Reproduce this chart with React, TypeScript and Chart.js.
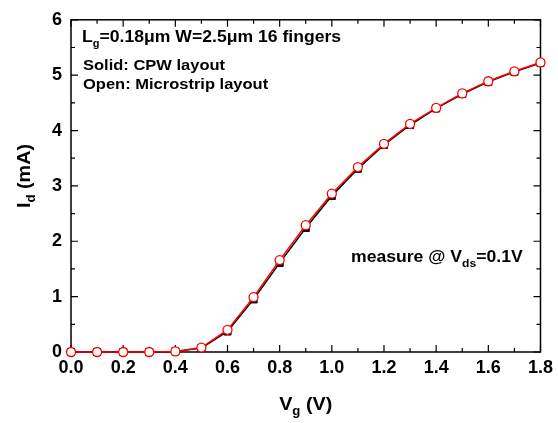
import React, { useEffect, useRef } from "react";
import { Chart, registerables } from "chart.js";

Chart.register(...registerables);

const vg = [0, 0.1, 0.2, 0.3, 0.4, 0.5, 0.6, 0.7, 0.8, 0.9, 1.0, 1.1, 1.2, 1.3, 1.4, 1.5, 1.6, 1.7, 1.8];
const idCPW = [0, 0, 0, 0, 0.01, 0.07, 0.37, 0.95, 1.61, 2.24, 2.82, 3.31, 3.74, 4.1, 4.4, 4.66, 4.88, 5.06, 5.22];
const idMicrostrip = [0, 0, 0, 0, 0.01, 0.08, 0.4, 0.99, 1.66, 2.29, 2.86, 3.34, 3.76, 4.12, 4.41, 4.67, 4.89, 5.07, 5.23];

const xMajorTicks = [0, 0.2, 0.4, 0.6, 0.8, 1.0, 1.2, 1.4, 1.6, 1.8];
const yMajorTicks = [0, 1, 2, 3, 4, 5, 6];

const FONT = "'Liberation Sans', Arial, sans-serif";
const SX = 1.1;

type Part = [string, boolean];

function partsWidth(ctx: CanvasRenderingContext2D, parts: Part[], size: number, subSize: number) {
  let w = 0;
  for (const [t, s] of parts) {
    ctx.font = `bold ${s ? subSize : size}px ${FONT}`;
    w += ctx.measureText(t).width;
  }
  return w * SX;
}

function drawSub(ctx: CanvasRenderingContext2D, parts: Part[], x: number, y: number, size: number, subSize: number) {
  ctx.save();
  ctx.translate(x, y);
  ctx.scale(SX, 1);
  let cx = 0;
  for (const [t, sub] of parts) {
    ctx.font = `bold ${sub ? subSize : size}px ${FONT}`;
    ctx.fillText(t, cx, sub ? size * 0.3 : 0);
    cx += ctx.measureText(t).width;
  }
  ctx.restore();
}

const framePlugin = {
  id: "frame",
  beforeDatasetsDraw(chart: any) {
    const { ctx, chartArea: a, scales } = chart;
    const xs = scales.x, ys = scales.y;
    ctx.save();
    ctx.strokeStyle = "#000";
    ctx.lineWidth = 1.5;
    ctx.strokeRect(a.left, a.top, a.right - a.left, a.bottom - a.top);
    ctx.lineWidth = 1.2;
    ctx.beginPath();
    for (let i = 0; i <= 18; i++) {
      const v = i / 10;
      const px = xs.getPixelForValue(v);
      const len = i % 2 === 0 ? 7 : 4;
      ctx.moveTo(px, a.bottom); ctx.lineTo(px, a.bottom - len);
      ctx.moveTo(px, a.top); ctx.lineTo(px, a.top + len);
    }
    for (let i = 0; i <= 12; i++) {
      const v = i / 2;
      const py = ys.getPixelForValue(v);
      const len = i % 2 === 0 ? 7 : 4;
      ctx.moveTo(a.left, py); ctx.lineTo(a.left + len, py);
      ctx.moveTo(a.right, py); ctx.lineTo(a.right - len, py);
    }
    ctx.stroke();
    ctx.restore();
  },
  afterDraw(chart: any) {
    const { ctx, chartArea: a } = chart;
    ctx.save();
    ctx.fillStyle = "#000";
    ctx.textBaseline = "alphabetic";
    ctx.textAlign = "left";
    const cxm = (a.left + a.right) / 2;

    const parts1: Part[] = [["V", false], ["g", true], [" (V)", false]];
    let w = partsWidth(ctx, parts1, 18, 12);
    drawSub(ctx, parts1, cxm - w / 2, 410, 18, 12);

    ctx.save();
    ctx.translate(30, 176);
    ctx.rotate(-Math.PI / 2);
    const parts2: Part[] = [["I", false], ["d", true], [" (mA)", false]];
    w = partsWidth(ctx, parts2, 18, 12);
    drawSub(ctx, parts2, -w / 2, 0, 18, 12);
    ctx.restore();

    drawSub(ctx, [["L", false], ["g", true], ["=0.18\u03bcm W=2.5\u03bcm 16 fingers", false]], 82, 42, 16, 10);
    drawSub(ctx, [["Solid: CPW layout", false]], 83, 70, 15, 10);
    drawSub(ctx, [["Open: Microstrip layout", false]], 83, 89, 15, 10);
    drawSub(ctx, [["measure @ V", false], ["ds", true], ["=0.1V", false]], 351, 262, 16, 11);
    ctx.restore();
  },
};

export default function App() {
  const ref = useRef<HTMLCanvasElement>(null);
  useEffect(() => {
    const chart = new Chart(ref.current!, {
      type: "line",
      data: {
        datasets: [
          {
            label: "CPW",
            order: 2,
            data: vg.map((x, i) => ({ x, y: idCPW[i] })),
            borderColor: "#000",
            backgroundColor: "#000",
            borderWidth: 1.5,
            pointStyle: "rect",
            pointRadius: 5,
            pointBorderWidth: 1,
            pointBorderColor: "#000",
            pointBackgroundColor: "#000",
            clip: false as any,
          },
          {
            label: "Microstrip",
            order: 1,
            data: vg.map((x, i) => ({ x, y: idMicrostrip[i] })),
            borderColor: "#ff0000",
            backgroundColor: "#fff",
            borderWidth: 1.5,
            pointStyle: "circle",
            pointRadius: 4.5,
            pointBorderWidth: 1.3,
            pointBorderColor: "#ff0000",
            pointBackgroundColor: "#fff",
            clip: false as any,
          },
        ],
      },
      options: {
        responsive: false,
        animation: false,
        layout: { padding: { left: 0, right: 17, top: 17, bottom: 0 } },
        plugins: { legend: { display: false }, tooltip: { enabled: false } },
        scales: {
          x: {
            type: "linear",
            min: 0,
            max: 1.8,
            afterFit: (s: any) => { s.height = 71; },
            afterBuildTicks: (s: any) => { s.ticks = xMajorTicks.map((v) => ({ value: v })); },
            grid: { display: false, drawTicks: false },
            border: { display: false },
            ticks: {
              padding: 5,
              color: "#000",
              font: { family: FONT, size: 18, weight: "bold" },
              callback: (v: any) => Number(v).toFixed(1),
              maxRotation: 0,
              autoSkip: false,
            },
          },
          y: {
            type: "linear",
            min: 0,
            max: 6,
            afterFit: (s: any) => { s.width = 71; },
            afterBuildTicks: (s: any) => { s.ticks = yMajorTicks.map((v) => ({ value: v })); },
            grid: { display: false, drawTicks: false },
            border: { display: false },
            ticks: {
              padding: 9,
              color: "#000",
              font: { family: FONT, size: 18, weight: "bold" },
              callback: (v: any) => String(v),
              autoSkip: false,
            },
          },
        },
      },
      plugins: [framePlugin],
    } as any);
    return () => chart.destroy();
  }, []);
  return (
    <div style={{ position: "absolute", left: 0, top: 0, width: 558, height: 423, background: "#fff" }}>
      <canvas ref={ref} width={558} height={423} />
    </div>
  );
}
